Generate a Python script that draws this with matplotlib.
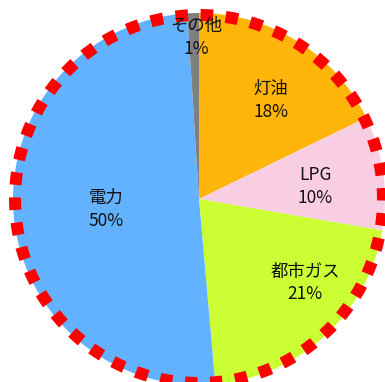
import numpy as np
import matplotlib
matplotlib.use("Agg")
import matplotlib.pyplot as plt

plt.rcParams['font.family'] = ['Noto Sans CJK JP', 'DejaVu Sans']
plt.rcParams['lines.scale_dashes'] = False

names = ['灯油', 'LPG', '都市ガス', '電力', 'その他']
shares = [17.8, 9.9, 20.9, 50.4, 1.0]
pct_labels = ['18%', '10%', '21%', '50%', '1%']
colors = ['#FFB50A', '#F9CEE2', '#CCFF33', '#62B2FF', '#7F7F7F']

# where Excel put the labels: radius fraction and angle tweak (deg)
lab_r = [0.654, 0.627, 0.728, 0.503, 0.868]
lab_da = [-4, -2, 9, 2, -1]

R = 186.0  # pie radius in px
fig = plt.figure(figsize=(3.85, 3.82), dpi=100)
ax = fig.add_axes([0, 0, 1, 1])
wedges, _ = ax.pie(shares, colors=colors, startangle=90, counterclock=False,
                   radius=1, wedgeprops=dict(linewidth=0))

for w, n, p, r, da in zip(wedges, names, pct_labels, lab_r, lab_da):
    mid = np.deg2rad((w.theta1 + w.theta2) / 2 + da)
    ax.text(r * np.cos(mid), r * np.sin(mid), n + '\n' + p, ha='center',
            va='center', fontsize=12.5, color='#111111', linespacing=1.35,
            zorder=5)

# red dotted outline
rr = 184 / R
t = np.linspace(np.pi / 2, np.pi / 2 + 2 * np.pi, 721)
circ = 2 * np.pi * 184
on = 12.5
off = circ / 46 - on
k = 0.72
ax.plot(rr * np.cos(t), rr * np.sin(t), color='#FF0000', lw=12 * k,
        linestyle=((on + off - 11) * k, (on * k, off * k)),
        solid_capstyle='butt', dash_capstyle='butt', zorder=3)

ax.set_aspect('auto')
ax.set_xlim(-199 / R, (385 - 199) / R)
ax.set_ylim(-(382 - 199) / R, 199 / R)
ax.axis('off')

fig.savefig('out.png', dpi=100)
